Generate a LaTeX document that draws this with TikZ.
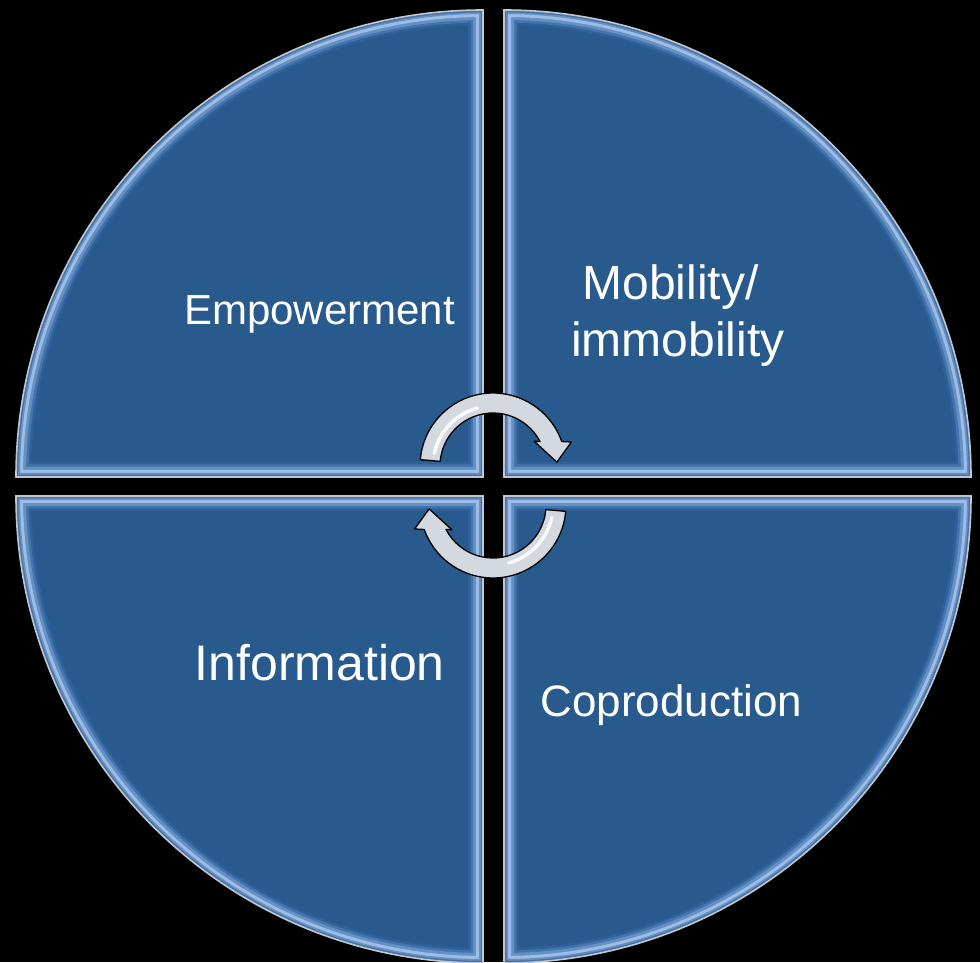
\documentclass[tikz,border=0pt]{standalone}
\usepackage{fontspec}
\setmainfont{Liberation Sans}
\definecolor{quadfill}{HTML}{285A8E}
\definecolor{bevA}{HTML}{2F6198}
\definecolor{bevB}{HTML}{4275AD}
\definecolor{bevC}{HTML}{6590C4}
\definecolor{bevE}{HTML}{9DBDE6}
\definecolor{bevD}{HTML}{4671A3}
\definecolor{rim}{HTML}{BFC7D2}
\definecolor{arrowgray}{HTML}{D4D8DF}
\newcommand\bevelquad[1]{%
  \fill[quadfill] #1;
  \begin{scope}
    \clip #1;
    \draw[line width=30pt, bevA, line join=miter] #1;
    \draw[line width=25pt, bevB, line join=miter] #1;
    \draw[line width=20pt, bevC, line join=miter] #1;
    \draw[line width=14pt, bevE, line join=miter] #1;
    \draw[line width=8pt, bevC, line join=miter] #1;
    \draw[line width=4.5pt, bevD, line join=miter] #1;
  \end{scope}
  \draw[line width=1.6pt, rim, line join=miter] #1;
}
\newcommand\circarrowpath{%
  (175:53) -- (175:73) arc[start angle=175, end angle=19.6, radius=73]
  -- (17:82) -- (3.5:64) -- (31:48) -- (27.5:53)
  arc[start angle=27.5, end angle=175, radius=53] -- cycle}
\tikzset{
  lbl/.style={text=white, inner sep=0pt, anchor=base},
  arrowbody/.style={fill=arrowgray, draw=black, line width=1.3pt, line join=round},
  gloss/.style={draw=white, line width=3.5pt, line cap=round, opacity=0.85}
}
\begin{document}
\begin{tikzpicture}[x=1pt, y=1pt]
  \useasboundingbox (0,0) rectangle (980,962);
  \fill[black] (0,0) rectangle (980,962);
  % quadrants
  \bevelquad{(483,485) -- (16,485) arc[start angle=180, end angle=90, radius=467] -- cycle}
  \bevelquad{(504,485) -- (504,952) arc[start angle=90, end angle=0, radius=467] -- cycle}
  \bevelquad{(483,466) -- (483,-1) arc[start angle=270, end angle=180, radius=467] -- cycle}
  \bevelquad{(504,466) -- (971,466) arc[start angle=0, end angle=-90, radius=467] -- cycle}
  % labels
  \node[lbl, font=\fontsize{42}{50}\selectfont] (emp) at (319.5,637) {Empowerment};
  \node[lbl, font=\fontsize{48}{57}\selectfont] (mob1) at (677,662) {Mobility/\kern13pt};
  \node[lbl, font=\fontsize{48}{57}\selectfont] (mob2) at (678,605) {immobility};
  \node[lbl, font=\fontsize{50}{60}\selectfont] (inf) at (319.7,281) {Information};
  \node[lbl, font=\fontsize{44}{52}\selectfont] (cop) at (671.5,245.5) {Coproduction};
  % circular arrows
  \begin{scope}[shift={(493,496)}]
    \draw[arrowbody] \circarrowpath;
    \draw[gloss] (168:60) arc[start angle=168, end angle=105, radius=60];
  \end{scope}
  \begin{scope}[shift={(493,457)}, rotate=180]
    \draw[arrowbody] \circarrowpath;
    \draw[gloss] (168:60) arc[start angle=168, end angle=105, radius=60];
  \end{scope}
\end{tikzpicture}
\end{document}
